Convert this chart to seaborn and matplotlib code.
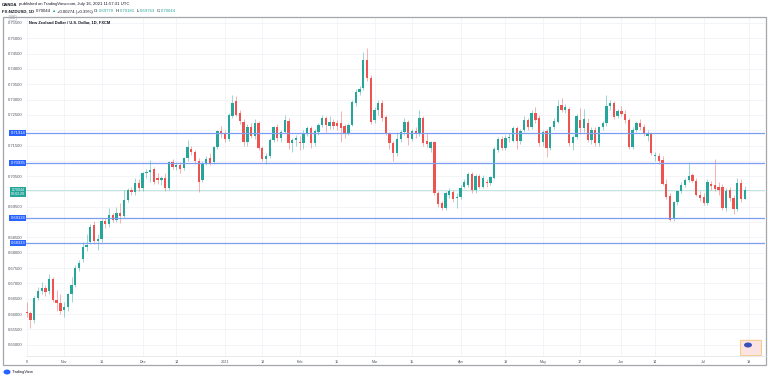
import numpy as np
import pandas as pd
import matplotlib
matplotlib.use("Agg")
import matplotlib.pyplot as plt
import seaborn as sns
from matplotlib.patches import Rectangle, FancyBboxPatch, Ellipse

# ---------------- data ----------------
dates = pd.bdate_range("2020-10-19", "2021-07-16")
dates = dates[~dates.isin(pd.to_datetime(["2020-12-25", "2021-01-01"]))]

open_ = [0.6608, 0.6603, 0.6580, 0.6652, 0.6674, 0.6684, 0.6675, 0.6716, 0.6645, 0.6636,
         0.6612, 0.6622, 0.6665, 0.6695, 0.6752, 0.6780, 0.6820, 0.6836, 0.6890, 0.6838,
         0.6845, 0.6903, 0.6893, 0.6923, 0.6907, 0.6929, 0.6920, 0.6972, 0.7005, 0.6999,
         0.7027, 0.7010, 0.7059, 0.7065, 0.7072, 0.7043, 0.7039, 0.7043, 0.7013, 0.7095,
         0.7081, 0.7086, 0.7076, 0.7108, 0.7140, 0.7128, 0.7100, 0.7036, 0.7092, 0.7110,
         0.7096, 0.7146, 0.7198, 0.7190, 0.7172, 0.7247, 0.7295, 0.7255, 0.7228, 0.7160,
         0.7211, 0.7180, 0.7222, 0.7141, 0.7105, 0.7116, 0.7168, 0.7211, 0.7174, 0.7195,
         0.7231, 0.7157, 0.7168, 0.7160, 0.7157, 0.7190, 0.7206, 0.7157, 0.7195, 0.7217,
         0.7239, 0.7212, 0.7228, 0.7225, 0.7222, 0.7212, 0.7190, 0.7217, 0.7288, 0.7326,
         0.7337, 0.7429, 0.7369, 0.7233, 0.7266, 0.7288, 0.7244, 0.7190, 0.7157, 0.7124,
         0.7170, 0.7193, 0.7228, 0.7171, 0.7198, 0.7187, 0.7241, 0.7165, 0.7141, 0.7160,
         0.6994, 0.6961, 0.6947, 0.6989, 0.6997, 0.6978, 0.6983, 0.7016, 0.7021, 0.7057,
         0.7005, 0.7052, 0.7016, 0.7030, 0.7029, 0.7043, 0.7135, 0.7171, 0.7141, 0.7174,
         0.7166, 0.7208, 0.7165, 0.7200, 0.7233, 0.7211, 0.7255, 0.7241, 0.7160, 0.7197,
         0.7141, 0.7211, 0.7228, 0.7282, 0.7266, 0.7269, 0.7157, 0.7179, 0.7233, 0.7206,
         0.7222, 0.7168, 0.7200, 0.7157, 0.7211, 0.7222, 0.7279, 0.7290, 0.7245, 0.7263,
         0.7252, 0.7233, 0.7146, 0.7202, 0.7222, 0.7211, 0.7180, 0.7190, 0.7116, 0.7115,
         0.7103, 0.7025, 0.6984, 0.6910, 0.6965, 0.7001, 0.7022, 0.7036, 0.7053, 0.7035,
         0.6989, 0.6981, 0.6962, 0.7025, 0.7021, 0.7016, 0.7016, 0.6945, 0.7005, 0.6978,
         0.6942, 0.7029, 0.69770]
high = [0.6640, 0.6610, 0.6660, 0.6690, 0.6705, 0.6695, 0.6730, 0.6722, 0.6680, 0.6665,
        0.6640, 0.6668, 0.6720, 0.6760, 0.6775, 0.6835, 0.6860, 0.6895, 0.6905, 0.6862,
        0.6910, 0.6915, 0.6946, 0.6930, 0.6951, 0.6962, 0.7005, 0.7010, 0.7015, 0.7043,
        0.7040, 0.7065, 0.7075, 0.7103, 0.7080, 0.7060, 0.7050, 0.7060, 0.7100, 0.7105,
        0.7095, 0.7095, 0.7112, 0.7168, 0.7150, 0.7135, 0.7110, 0.7098, 0.7115, 0.7125,
        0.7150, 0.7200, 0.7215, 0.7200, 0.7255, 0.7315, 0.7310, 0.7265, 0.7235, 0.7220,
        0.7225, 0.7235, 0.7230, 0.7150, 0.7125, 0.7175, 0.7215, 0.7220, 0.7200, 0.7250,
        0.7240, 0.7175, 0.7185, 0.7180, 0.7200, 0.7215, 0.7215, 0.7205, 0.7225, 0.7250,
        0.7245, 0.7245, 0.7238, 0.7232, 0.7262, 0.7220, 0.7222, 0.7300, 0.7335, 0.7345,
        0.7456, 0.7467, 0.7380, 0.7275, 0.7300, 0.7298, 0.7250, 0.7195, 0.7165, 0.7195,
        0.7200, 0.7239, 0.7232, 0.7205, 0.7210, 0.7266, 0.7245, 0.7190, 0.7165, 0.7165,
        0.7000, 0.6970, 0.7000, 0.7010, 0.7005, 0.6995, 0.7020, 0.7040, 0.7065, 0.7065,
        0.7058, 0.7058, 0.7055, 0.7040, 0.7050, 0.7145, 0.7178, 0.7180, 0.7185, 0.7190,
        0.7215, 0.7215, 0.7205, 0.7245, 0.7240, 0.7265, 0.7275, 0.7248, 0.7200, 0.7205,
        0.7215, 0.7240, 0.7298, 0.7305, 0.7285, 0.7275, 0.7185, 0.7252, 0.7273, 0.7268,
        0.7240, 0.7210, 0.7210, 0.7215, 0.7230, 0.7315, 0.7300, 0.7295, 0.7270, 0.7280,
        0.7265, 0.7240, 0.7210, 0.7230, 0.7235, 0.7220, 0.7200, 0.7195, 0.7130, 0.7125,
        0.7115, 0.7040, 0.6995, 0.6970, 0.7005, 0.7030, 0.7045, 0.7095, 0.7060, 0.7045,
        0.7000, 0.6995, 0.7040, 0.7035, 0.7106, 0.7030, 0.7025, 0.7010, 0.7015, 0.6990,
        0.7043, 0.7040, 0.70181]
low = [0.6590, 0.6555, 0.6572, 0.6645, 0.6665, 0.6660, 0.6665, 0.6640, 0.6610, 0.6600,
       0.6590, 0.6610, 0.6640, 0.6690, 0.6740, 0.6770, 0.6805, 0.6830, 0.6830, 0.6810,
       0.6835, 0.6880, 0.6885, 0.6900, 0.6900, 0.6897, 0.6915, 0.6965, 0.6990, 0.6990,
       0.7000, 0.7000, 0.7045, 0.7032, 0.7025, 0.7025, 0.7020, 0.7000, 0.7005, 0.7075,
       0.7070, 0.7060, 0.7070, 0.7100, 0.7120, 0.7090, 0.6999, 0.7030, 0.7085, 0.7085,
       0.7090, 0.7140, 0.7175, 0.7160, 0.7165, 0.7240, 0.7245, 0.7220, 0.7150, 0.7150,
       0.7175, 0.7170, 0.7135, 0.7098, 0.7090, 0.7110, 0.7160, 0.7165, 0.7160, 0.7190,
       0.7140, 0.7130, 0.7150, 0.7135, 0.7140, 0.7180, 0.7141, 0.7150, 0.7185, 0.7210,
       0.7195, 0.7205, 0.7205, 0.7200, 0.7160, 0.7175, 0.7185, 0.7212, 0.7280, 0.7315,
       0.7330, 0.7360, 0.7220, 0.7225, 0.7250, 0.7230, 0.7185, 0.7140, 0.7100, 0.7115,
       0.7160, 0.7185, 0.7152, 0.7165, 0.7175, 0.7180, 0.7150, 0.7145, 0.7130, 0.6990,
       0.6950, 0.6940, 0.6940, 0.6980, 0.6965, 0.6945, 0.6975, 0.7010, 0.7015, 0.6995,
       0.6995, 0.7010, 0.7010, 0.7015, 0.7020, 0.7040, 0.7130, 0.7135, 0.7135, 0.7160,
       0.7160, 0.7140, 0.7155, 0.7195, 0.7200, 0.7205, 0.7225, 0.7150, 0.7150, 0.7114,
       0.7135, 0.7205, 0.7222, 0.7258, 0.7255, 0.7150, 0.7135, 0.7170, 0.7186, 0.7195,
       0.7160, 0.7155, 0.7150, 0.7150, 0.7200, 0.7215, 0.7265, 0.7235, 0.7240, 0.7245,
       0.7225, 0.7140, 0.7140, 0.7195, 0.7200, 0.7180, 0.7165, 0.7120, 0.7100, 0.7090,
       0.7020, 0.6975, 0.6905, 0.6905, 0.6955, 0.6995, 0.7015, 0.7030, 0.7030, 0.6985,
       0.6970, 0.6955, 0.6955, 0.7005, 0.7000, 0.6990, 0.6940, 0.6935, 0.6970, 0.6925,
       0.6935, 0.6965, 0.69763]
close = [0.6603, 0.6580, 0.6652, 0.6674, 0.6684, 0.6672, 0.6716, 0.6645, 0.6636, 0.6610,
         0.6622, 0.6665, 0.6695, 0.6752, 0.6768, 0.6820, 0.6826, 0.6883, 0.6838, 0.6845,
         0.6903, 0.6893, 0.6923, 0.6907, 0.6929, 0.6920, 0.6972, 0.7005, 0.6999, 0.7027,
         0.7010, 0.7061, 0.7065, 0.7070, 0.7032, 0.7039, 0.7043, 0.7013, 0.7095, 0.7081,
         0.7086, 0.7072, 0.7108, 0.7146, 0.7128, 0.7100, 0.7032, 0.7090, 0.7106, 0.7094,
         0.7146, 0.7196, 0.7186, 0.7172, 0.7248, 0.7288, 0.7250, 0.7231, 0.7160, 0.7211,
         0.7180, 0.7222, 0.7141, 0.7105, 0.7116, 0.7168, 0.7211, 0.7174, 0.7195, 0.7233,
         0.7157, 0.7168, 0.7175, 0.7158, 0.7192, 0.7206, 0.7157, 0.7198, 0.7217, 0.7239,
         0.7217, 0.7228, 0.7215, 0.7212, 0.7206, 0.7190, 0.7217, 0.7293, 0.7326, 0.7333,
         0.7429, 0.7369, 0.7228, 0.7266, 0.7288, 0.7239, 0.7190, 0.7157, 0.7124, 0.7170,
         0.7195, 0.7228, 0.7174, 0.7198, 0.7187, 0.7241, 0.7157, 0.7155, 0.7160, 0.6994,
         0.6959, 0.6945, 0.6996, 0.7000, 0.6975, 0.6983, 0.7013, 0.7032, 0.7057, 0.7005,
         0.7052, 0.7016, 0.7045, 0.7028, 0.7046, 0.7138, 0.7170, 0.7141, 0.7174, 0.7178,
         0.7208, 0.7166, 0.7197, 0.7233, 0.7211, 0.7255, 0.7233, 0.7157, 0.7195, 0.7141,
         0.7211, 0.7231, 0.7279, 0.7266, 0.7275, 0.7157, 0.7179, 0.7246, 0.7206, 0.7235,
         0.7168, 0.7200, 0.7157, 0.7211, 0.7222, 0.7279, 0.7290, 0.7242, 0.7263, 0.7252,
         0.7233, 0.7146, 0.7202, 0.7222, 0.7211, 0.7190, 0.7190, 0.7126, 0.7118, 0.7098,
         0.7025, 0.6982, 0.6908, 0.6965, 0.7001, 0.7022, 0.7036, 0.7050, 0.7035, 0.6989,
         0.6978, 0.6964, 0.7032, 0.7018, 0.7007, 0.7005, 0.6945, 0.7000, 0.6978, 0.6943,
         0.7029, 0.6974, 0.70044]

level_lines = [0.71914, 0.70935, 0.69134, 0.68333]
level_labels = ["0.71914", "0.70935", "0.69134", "0.68333"]
last_price = 0.70044
last_label = "0.70044\n09:02:29"

tick_dates = ["2020-10-19", "2020-11-02", "2020-11-16", "2020-12-01", "2020-12-14",
              "2021-01-04", "2021-01-18", "2021-02-01", "2021-02-15", "2021-03-01",
              "2021-03-15", "2021-04-01", "2021-04-19", "2021-05-03", "2021-05-17",
              "2021-06-01", "2021-06-14", "2021-07-01", "2021-07-19"]
tick_labels = ["9", "Nov", "16", "Dec", "14", "2021", "18", "Feb", "15", "Mar",
               "15", "Apr", "19", "May", "17", "Jun", "14", "Jul", "19"]
price_ticks = [round(0.650 + 0.005 * k, 3) for k in range(22)]
hidden_price_labels = [0.690, 0.700, 0.710, 0.720]   # covered by the scale labels

# ---------------- figure ----------------
sns.set_theme(style="white")
plt.rcParams["font.family"] = ["Liberation Sans", "DejaVu Sans"]

W, H = 768, 379
fig = plt.figure(figsize=(W / 100, H / 100), dpi=100)
fig.patch.set_facecolor("white")
ax = fig.add_axes([26 / W, 1 - 356 / H, 739 / W, 339 / H])
ax.set_facecolor("white")

df = pd.DataFrame({"date": dates, "open": open_, "high": high, "low": low, "close": close})
df["idx"] = np.arange(len(df))
up = df["close"] >= df["open"]
GREEN, RED = "#26a69a", "#ef5350"

# grid
for p in price_ticks:
    ax.axhline(p, color="#f0f2f7", lw=0.6, zorder=0)
tick_pos = [int(dates.searchsorted(pd.Timestamp(d))) for d in tick_dates]
for t in tick_pos:
    ax.axvline(t, color="#f0f2f7", lw=0.6, zorder=0)

# wicks
ax.vlines(df["idx"][up], df["low"][up], df["high"][up], color=GREEN, alpha=0.45, lw=0.7, zorder=2)
ax.vlines(df["idx"][~up], df["low"][~up], df["high"][~up], color=RED, alpha=0.45, lw=0.7, zorder=2)
# bodies
body = (df["close"] - df["open"]).abs().clip(lower=0.00009)
bottom = df[["open", "close"]].min(axis=1)
ax.bar(df["idx"], body, bottom=bottom, width=0.62,
       color=np.where(up, GREEN, RED), linewidth=0, zorder=3)

# horizontal levels
for lv in level_lines:
    ax.axhline(lv, color="#7d9cf3", lw=0.9, zorder=4)
ax.axhline(last_price, color="#b5e2dc", lw=0.6, zorder=1)

ax.set_xlim(-0.19, 197.4)
ax.set_ylim(0.64635, 0.75691)
ax.set_yticks(price_ticks)
ax.set_yticklabels(["" if p in hidden_price_labels else f"{p:.5f}" for p in price_ticks])
ax.set_xticks(tick_pos)
ax.set_xticklabels(tick_labels)
ax.tick_params(axis="y", length=0, pad=2.2, labelsize=3.0, labelcolor="#50535e")
ax.tick_params(axis="x", length=0, pad=2.6, labelsize=2.7, labelcolor="#50535e")
for s in ax.spines.values():
    s.set_visible(False)
ax.grid(False)

# level labels on the price scale
for lv, lab in zip(level_lines, level_labels):
    ax.annotate(lab, xy=(-0.001, lv), xycoords=("axes fraction", "data"),
                ha="right", va="center", fontsize=3.0, color="white", zorder=10,
                bbox=dict(boxstyle="square,pad=0.25", fc="#2962ff", ec="none"),
                annotation_clip=False)
ax.annotate(last_label, xy=(-0.001, last_price - 0.0006), xycoords=("axes fraction", "data"),
            ha="right", va="center", fontsize=2.6, color="white", zorder=10, linespacing=1.2,
            bbox=dict(boxstyle="square,pad=0.3", fc="#26a69a", ec="none"),
            annotation_clip=False)
ax.annotate("USD", xy=(-0.018, 0.7566), xycoords=("axes fraction", "data"),
            ha="center", va="center", fontsize=2.0, color="#7a7d87", zorder=10,
            bbox=dict(boxstyle="round,pad=0.25", fc="white", ec="#c0c3cc", lw=0.4),
            annotation_clip=False)

# chart title
ax.text(3 / 739, 1 - 5 / 339, "New Zealand Dollar / U.S. Dollar, 1D, FXCM", transform=ax.transAxes,
        fontsize=2.9, fontweight="bold", color="#131722", ha="left", va="center")

# frame
fig.add_artist(Rectangle((2.5 / W, 1 - 365 / H), 763.5 / W, 348 / H, transform=fig.transFigure,
                         fill=False, ec="#a3a6ad", lw=0.9))
fig.add_artist(plt.Line2D([26 / W, 766 / W], [1 - 356 / H, 1 - 356 / H], transform=fig.transFigure,
                          color="#e4e6eb", lw=0.6))

# header
renderer = fig.canvas.get_renderer()


def seq_text(x_px, y_px, pieces, size):
    """pieces: (text, colour, weight, gap in px before the piece)"""
    x = x_px
    for s, col, wt, gap in pieces:
        x += gap
        t = fig.text(x / W, 1 - y_px / H, s, fontsize=size, color=col, fontweight=wt,
                     ha="left", va="center")
        x += t.get_window_extent(renderer=renderer).width


D = "#131722"
TEAL = "#26a69a"
seq_text(2, 4.5, [("OANDA", D, "bold", 0),
                  ("published on TradingView.com, July 16, 2021 11:57:31 UTC", D, "normal", 1.4)], 3.1)
seq_text(2, 11.5, [("FX:NZDUSD, 1D", D, "bold", 0),
                   ("0.70044", D, "normal", 1.4),
                   ("\u25b2", TEAL, "normal", 1.2),
                   ("+0.00274 (+0.39%)", D, "normal", 1.2),
                   ("O:", D, "normal", 1.4), ("0.69770", TEAL, "normal", 0.2),
                   ("H:", D, "normal", 1.4), ("0.70181", TEAL, "normal", 0.2),
                   ("L:", D, "normal", 1.4), ("0.69763", TEAL, "normal", 0.2),
                   ("C:", D, "normal", 1.4), ("0.70044", TEAL, "normal", 0.2)], 3.1)

# footer logo
fig.add_artist(Ellipse((7 / W, 1 - 372 / H), 7 / W, 5 / H, transform=fig.transFigure,
                       fc="#2962ff", ec="none"))
fig.text(12 / W, 1 - 372 / H, "TradingView", fontsize=2.9, color=D, ha="left", va="center")

# small badge bottom right
fig.add_artist(FancyBboxPatch((742 / W, 1 - 355 / H), 18 / W, 14 / H, transform=fig.transFigure,
                              boxstyle="round,pad=0.002", fc="#fbe3e1", ec="#f2c46d", lw=0.6))
fig.add_artist(Ellipse((748 / W, 1 - 345 / H), 8 / W, 5 / H, transform=fig.transFigure,
                       fc="#3a4fb8", ec="none"))

fig.savefig("out.png", dpi=100, facecolor="white")
